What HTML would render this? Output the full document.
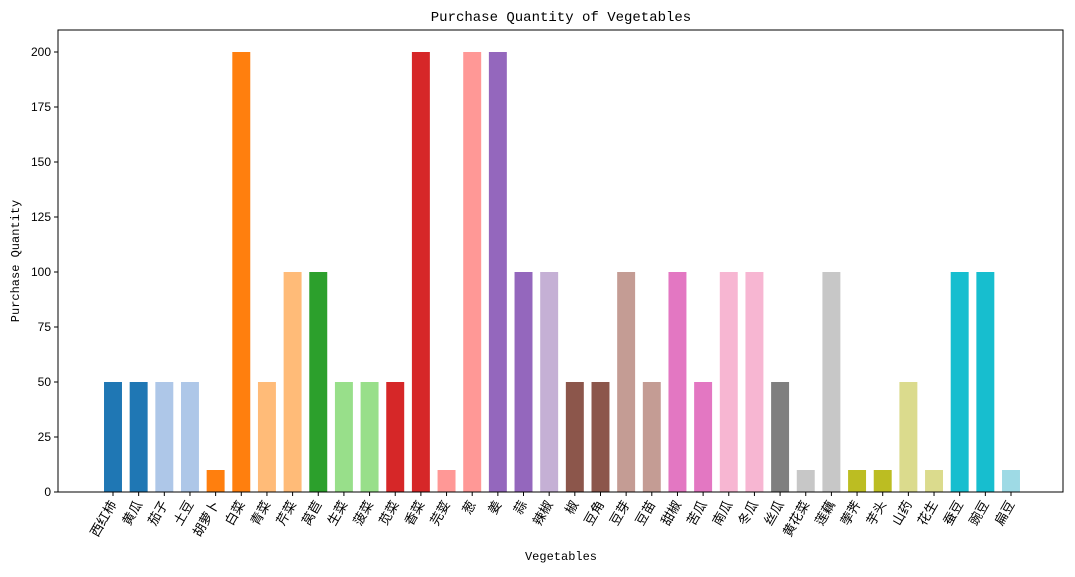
<!DOCTYPE html>
<html><head><meta charset="utf-8"><style>
body{margin:0;background:#fff;}
svg text{font-family:"Liberation Sans","Noto Sans CJK SC",sans-serif;}
svg text.mono{font-family:"Liberation Mono","Noto Sans CJK SC",monospace;}
</style></head><body>
<svg id="chart" width="1075" height="572" xmlns="http://www.w3.org/2000/svg">
<text class="mono" x="561" y="21" text-anchor="middle" font-size="14">Purchase Quantity of Vegetables</text>
<text class="mono" x="561" y="560" text-anchor="middle" font-size="12">Vegetables</text>
<text class="mono" transform="translate(19,261) rotate(-90)" text-anchor="middle" font-size="12">Purchase Quantity</text>
<g id="bars"></g><g id="axes"></g>
</svg>
<script>
const categories=["西红柿","黄瓜","茄子","土豆","胡萝卜","白菜","青菜","芹菜","莴苣","生菜","菠菜","苋菜","香菜","芫荽","葱","姜","蒜","辣椒","椒","豆角","豆芽","豆苗","甜椒","苦瓜","南瓜","冬瓜","丝瓜","黄花菜","莲藕","荸荠","芋头","山药","花生","蚕豆","豌豆","扁豆"];
const values=[50,50,50,50,10,200,50,100,100,50,50,50,200,10,200,200,100,100,50,50,100,50,100,50,100,100,50,10,100,10,10,50,10,100,100,10];
const yTicks=[0,25,50,75,100,125,150,175,200];
const colors=["#1f77b4","#1f77b4","#aec7e8","#aec7e8","#ff7f0e","#ff7f0e","#ffbb78","#ffbb78","#2ca02c","#98df8a","#98df8a","#d62728","#d62728","#ff9896","#ff9896","#9467bd","#9467bd","#c5b0d5","#8c564b","#8c564b","#c49c94","#c49c94","#e377c2","#e377c2","#f7b6d2","#f7b6d2","#7f7f7f","#c7c7c7","#c7c7c7","#bcbd22","#bcbd22","#dbdb8d","#dbdb8d","#17becf","#17becf","#9edae5"];
const L=58,R=1063,T=30,B=492,NS="http://www.w3.org/2000/svg";
const yMax=210;
const y=v=>B-(v/yMax)*(B-T);
const step=(1011-113)/35;
const x=i=>113+i*step;
const bw=step*0.7;
function mk(t,a,p){const e=document.createElementNS(NS,t);for(const k in a)e.setAttribute(k,a[k]);p.appendChild(e);return e;}
const bars=document.getElementById('bars'),axes=document.getElementById('axes');
values.forEach((v,i)=>{
 const r=mk('rect',{x:x(i)-bw/2,y:y(v),width:bw,height:B-y(v),fill:colors[i%colors.length]},bars);
 
 
 const tk=mk('line',{x1:x(i),x2:x(i),y1:B,y2:B+4,stroke:'#000'},axes);
 
 
 const t=mk('text',{x:0,y:0,'font-size':13,'text-anchor':'end',transform:`translate(${x(i)+4},${B+12}) rotate(-60)`},axes);
 t.textContent=categories[i];
 
 
});
yTicks.forEach(v=>{
 const tk=mk('line',{x1:L-4,x2:L,y1:y(v),y2:y(v),stroke:'#000'},axes);
 
 
 const t=mk('text',{x:L-7,y:y(v)+4,'font-size':12,'text-anchor':'end'},axes);
 t.textContent=v;
 
 
});
const f=mk('rect',{x:L,y:T,width:R-L,height:B-T,fill:'none',stroke:'#000','stroke-width':1},axes);


</script>
</body></html>
